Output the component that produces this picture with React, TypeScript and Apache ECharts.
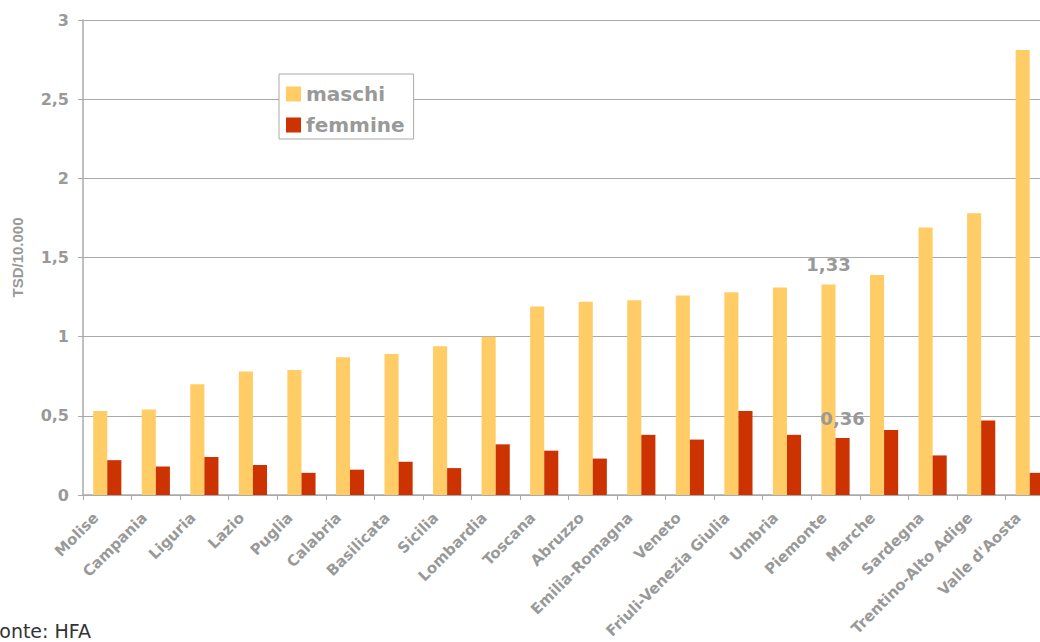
import React, { useEffect, useRef } from "react";
import * as echarts from "echarts";

const categories = [
  "Molise", "Campania", "Liguria", "Lazio", "Puglia", "Calabria", "Basilicata",
  "Sicilia", "Lombardia", "Toscana", "Abruzzo", "Emilia-Romagna", "Veneto",
  "Friuli-Venezia Giulia", "Umbria", "Piemonte", "Marche", "Sardegna",
  "Trentino-Alto Adige", "Valle d'Aosta",
];
const maschi = [0.53, 0.54, 0.70, 0.78, 0.79, 0.87, 0.89, 0.94, 1.00, 1.19, 1.22, 1.23, 1.26, 1.28, 1.31, 1.33, 1.39, 1.69, 1.78, 2.81];
const femmine = [0.22, 0.18, 0.24, 0.19, 0.14, 0.16, 0.21, 0.17, 0.32, 0.28, 0.23, 0.38, 0.35, 0.53, 0.38, 0.36, 0.41, 0.25, 0.47, 0.14];
const labelledIndex = 15; // Piemonte
const yTicks = [0, 0.5, 1, 1.5, 2, 2.5, 3];

const GREY = "#999999";
const FONT = "'DejaVu Sans', sans-serif";
const FONT_NARROW = "'Liberation Sans', Arial, sans-serif";

export default function App() {
  const ref = useRef<HTMLDivElement>(null);
  useEffect(() => {
    document.body.style.margin = "0";
    const chart = echarts.init(ref.current!, null, { renderer: "svg" });
    const fmt = (v: number) => String(v).replace(".", ",");
    const withLabel = (arr: number[]) =>
      arr.map((v, i) =>
        i === labelledIndex
          ? {
              value: v,
              label: {
                show: true,
                position: "top",
                distance: 11,
                formatter: fmt(v),
                color: GREY,
                fontSize: 18,
                fontWeight: "bold",
                fontFamily: FONT,
              },
            }
          : v
      );
    chart.setOption({
      animation: false,
      grid: { left: 83, right: 6, top: 20, bottom: 147, containLabel: false },
      legend: {
        orient: "vertical",
        left: 279,
        top: 74,
        itemWidth: 15,
        itemHeight: 15,
        itemGap: 11,
        padding: [10, 9, 4, 7],
        backgroundColor: "#ffffff",
        borderColor: "#aaaaaa",
        borderWidth: 1,
        borderRadius: 0,
        textStyle: { color: GREY, fontSize: 20, fontWeight: "bold", fontFamily: FONT, lineHeight: 20 },
        data: [
          { name: "maschi", icon: "rect" },
          { name: "femmine", icon: "rect" },
        ],
      },
      xAxis: {
        type: "category",
        data: categories,
        axisLine: { lineStyle: { color: "#aaaaaa", width: 1.5 } },
        axisTick: { show: true, alignWithLabel: false, length: 5, lineStyle: { color: "#aaaaaa" } },
        axisLabel: {
          rotate: 45,
          interval: 0,
          color: GREY,
          fontSize: 15,
          fontWeight: "bold",
          fontFamily: FONT,
          margin: 9,
          padding: [0, 16, 0, 0],
        },
      },
      yAxis: {
        type: "value",
        min: 0,
        max: 3,
        interval: 0.5,
        name: "TSD/10.000",
        nameLocation: "middle",
        nameGap: 58,
        nameTextStyle: { color: GREY, fontSize: 15, fontWeight: "bold", fontFamily: FONT_NARROW },
        axisLine: { show: true, lineStyle: { color: "#aaaaaa", width: 1.5 } },
        axisTick: { show: true, length: 5, lineStyle: { color: "#aaaaaa" } },
        splitLine: { lineStyle: { color: "#aaaaaa", width: 1.2 } },
        axisLabel: {
          color: GREY,
          fontSize: 16,
          fontWeight: "bold",
          fontFamily: FONT,
          margin: 14,
          formatter: (v: number) => (yTicks.includes(v) ? fmt(v) : ""),
        },
      },
      series: [
        {
          name: "maschi",
          type: "bar",
          data: withLabel(maschi),
          itemStyle: { color: "#ffcc66" },
          barGap: "0%",
          barCategoryGap: "42%",
        },
        {
          name: "femmine",
          type: "bar",
          data: withLabel(femmine),
          itemStyle: { color: "#cc3300" },
        },
      ],
      graphic: [
        {
          type: "text",
          left: -11,
          top: 621,
          style: { text: "Fonte: HFA", fill: "#333333", fontSize: 19, fontFamily: FONT },
        },
      ],
    });
    return () => chart.dispose();
  }, []);
  return (
    <div style={{ width: 1040, height: 642, overflow: "hidden", position: "relative" }}>
      <div ref={ref} style={{ width: 1060, height: 642 }} />
    </div>
  );
}
